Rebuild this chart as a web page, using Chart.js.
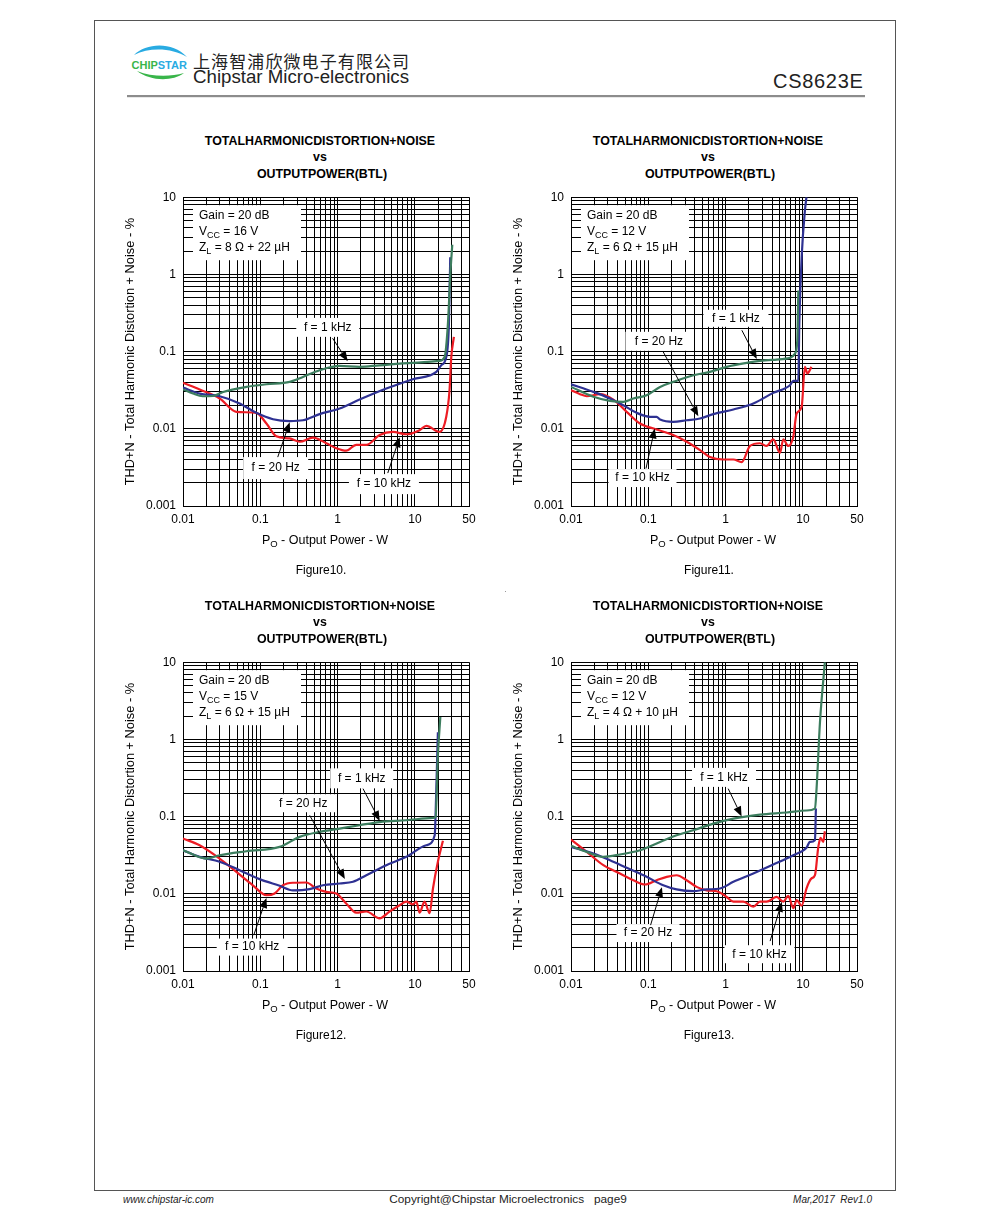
<!DOCTYPE html>
<html>
<head>
<meta charset="utf-8">
<script src="https://cdn.jsdelivr.net/npm/chart.js@4.4.1/dist/chart.umd.min.js"></script>
<style>
body { margin: 0; background: #fff; width: 991px; height: 1218px; position: relative; overflow: hidden;
       font-family: "Liberation Sans", Arial, sans-serif; color: #000; }
.t { position: absolute; white-space: pre; line-height: 1; transform: translate(-50%, -50%); }
.l { position: absolute; white-space: pre; line-height: 1; transform: translate(0, -50%); }
.r { position: absolute; white-space: pre; line-height: 1; transform: translate(-100%, -50%); }
.ttl { font-weight: bold; font-size: 12.4px; }
.ax { font-size: 12.5px; }
.ax sub { font-size: 9.5px; vertical-align: -3px; line-height: 0; }
.cap { font-size: 12px; }
canvas { position: absolute; }
#frame { position: absolute; left: 94px; top: 20px; width: 802px; height: 1171px; border: 1px solid #555; box-sizing: border-box; }
</style>
</head>
<body>
<div id="frame"></div>

<svg style="position:absolute;left:0;top:0" width="991" height="100">
  <path d="M134,55 C146,43 172,41 187,57 C172,48 150,47 134,55 Z" fill="#29abe2"/>
  <path d="M137,71 C150,81 172,82 184,73 C170,77 152,77 137,71 Z" fill="#39b54a"/>
  <text x="131.5" y="68.5" font-family="Liberation Sans, Arial" font-weight="bold" font-size="11"><tspan fill="#39b54a">CHIP</tspan><tspan fill="#29abe2">STAR</tspan></text>
  <rect x="127" y="95" width="738" height="2.2" fill="#8c8c8c"/>
</svg>
<div class="l" style="left:193px;top:59.5px;font-family:'Noto Sans CJK SC';font-size:17px;letter-spacing:1.1px;color:#222">上海智浦欣微电子有限公司</div>
<div class="l" style="left:193px;top:77px;font-size:18.7px;color:#222">Chipstar Micro-electronics</div>
<div class="r" style="left:863.5px;top:81px;font-size:20px;letter-spacing:0.7px;color:#222">CS8623E</div>

<canvas id="c10" width="368" height="353" style="left:123px;top:183px;width:368px;height:353px"></canvas>
<canvas id="c11" width="368" height="353" style="left:511px;top:183px;width:368px;height:353px"></canvas>
<canvas id="c12" width="368" height="353" style="left:123px;top:648px;width:368px;height:353px"></canvas>
<canvas id="c13" width="368" height="353" style="left:511px;top:648px;width:368px;height:353px"></canvas>

<div style="position:absolute;left:505px;top:591px;width:1px;height:1px;background:#999"></div>

<div class="l" style="left:123px;top:1200px;font-size:10px;font-style:italic;color:#222">www.chipstar-ic.com</div>
<div class="t" style="left:508px;top:1200px;font-size:11.8px;color:#222">Copyright@Chipstar Microelectronics   page9</div>
<div class="r" style="left:872px;top:1200px;font-size:10px;font-style:italic;color:#222">Mar,2017  Rev1.0</div>

<script>
// axes
const xTickVals = [0.01, 0.1, 1, 10, 50];
const xTickLabels = ['0.01', '0.1', '1', '10', '50'];
const yTickVals = [0.001, 0.01, 0.1, 1, 10];
const yTickLabels = ['0.001', '0.01', '0.1', '1', '10'];

// Figure10: Vcc 16 V, 8 ohm
const f10_1k_x = [0.01, 0.0135, 0.018, 0.0244, 0.033, 0.066, 0.12, 0.24, 0.356, 0.585, 1.06, 1.92, 3.49, 9.4, 20.8, 24.2, 26.7, 28.7, 30.4];
const f10_1k_y = [0.0326, 0.0286, 0.0264, 0.0266, 0.030, 0.0349, 0.0378, 0.0405, 0.047, 0.0574, 0.0653, 0.0634, 0.0665, 0.0713, 0.0757, 0.085, 0.23, 1.02, 2.42];
const f10_20_x = [0.01, 0.0164, 0.0298, 0.054, 0.0888, 0.146, 0.239, 0.356, 0.585, 1.06, 1.92, 4.26, 9.4, 18.9, 21.9, 25.4, 27.5, 28.6];
const f10_20_y = [0.0342, 0.0286, 0.0264, 0.0213, 0.0161, 0.0133, 0.0126, 0.0129, 0.0155, 0.0183, 0.0239, 0.0332, 0.0439, 0.0546, 0.0666, 0.085, 0.23, 1.67];
const f10_10k_x = [0.01, 0.0164, 0.0298, 0.049, 0.0888, 0.12, 0.161, 0.239, 0.323, 0.48, 0.714, 0.96, 1.29, 1.74, 2.35, 3.49, 5.2, 7.72, 11.5, 14, 20.8, 25.4, 28, 29.5, 31.9];
const f10_10k_y = [0.0394, 0.0323, 0.0247, 0.0166, 0.0161, 0.0117, 0.0080, 0.0075, 0.0068, 0.0077, 0.0065, 0.0056, 0.0052, 0.0062, 0.0062, 0.0083, 0.0091, 0.0085, 0.0096, 0.0109, 0.0091, 0.0143, 0.0316, 0.085, 0.155];

// Figure11: Vcc 12 V, 6 ohm
const f11_1k_x = [0.01, 0.0195, 0.0319, 0.0475, 0.064, 0.095, 0.142, 0.21, 0.382, 0.627, 1.03, 1.87, 2.78, 4.56, 6.79, 7.88, 8.45, 8.71];
const f11_1k_y = [0.0349, 0.026, 0.023, 0.0223, 0.0247, 0.0272, 0.0349, 0.0405, 0.0494, 0.0546, 0.0634, 0.0713, 0.0757, 0.0788, 0.0828, 0.0942, 0.14, 0.62];
const f11_20_x = [0.01, 0.0195, 0.0319, 0.0475, 0.0706, 0.105, 0.128, 0.142, 0.21, 0.313, 0.466, 0.693, 1.26, 2.28, 4.13, 6.79, 7.5, 8.71, 8.97, 9.62, 10.6, 11.1];
const f11_20_y = [0.0378, 0.0301, 0.0247, 0.0202, 0.0161, 0.0143, 0.0143, 0.0132, 0.0123, 0.0129, 0.0136, 0.0155, 0.0178, 0.0213, 0.0292, 0.0367, 0.0418, 0.0418, 0.23, 1.67, 6.7, 10];
const f11_10k_x = [0.01, 0.0131, 0.016, 0.0237, 0.0353, 0.0525, 0.078, 0.128, 0.21, 0.313, 0.466, 0.627, 0.933, 1.26, 1.61, 2.07, 2.78, 3.39, 4.13, 5.05, 5.57, 6.46, 7.5, 8.28, 9.62, 10.6, 11.4, 12.9];
const f11_10k_y = [0.0316, 0.0281, 0.0264, 0.0281, 0.0239, 0.0166, 0.0117, 0.0098, 0.0083, 0.0068, 0.0053, 0.0043, 0.0040, 0.0040, 0.0037, 0.0060, 0.0065, 0.0060, 0.0073, 0.0049, 0.0073, 0.0060, 0.0079, 0.0158, 0.0192, 0.0634, 0.052, 0.0634];

// Figure12: Vcc 15 V, 6 ohm
const f12_1k_x = [0.01, 0.02, 0.0298, 0.066, 0.178, 0.323, 0.585, 1.06, 1.92, 3.49, 7.72, 17.1, 18.5, 19.8, 21.3];
const f12_1k_y = [0.0367, 0.0286, 0.0316, 0.0356, 0.0405, 0.0546, 0.0634, 0.07, 0.0773, 0.085, 0.0897, 0.0961, 0.099, 0.62, 1.95];
const f12_20_x = [0.01, 0.0164, 0.0298, 0.054, 0.098, 0.178, 0.264, 0.434, 0.646, 1.06, 1.58, 2.35, 4.26, 7.72, 14, 18, 18.9, 19.8];
const f12_20_y = [0.0367, 0.0301, 0.026, 0.0202, 0.0155, 0.0127, 0.0111, 0.0115, 0.0129, 0.0136, 0.0143, 0.0174, 0.0235, 0.0301, 0.0426, 0.0574, 0.23, 1.24];
const f12_10k_x = [0.01, 0.0164, 0.0298, 0.049, 0.08, 0.12, 0.153, 0.196, 0.264, 0.394, 0.53, 0.714, 0.96, 1.29, 1.74, 2.35, 3.49, 4.7, 6.34, 7.72, 9.42, 10.4, 11.5, 13.3, 15.5, 17.1, 19.8, 23];
const f12_10k_y = [0.052, 0.0426, 0.0286, 0.0192, 0.0129, 0.0096, 0.0101, 0.0129, 0.0139, 0.014, 0.0117, 0.0106, 0.0101, 0.0075, 0.0057, 0.0059, 0.0048, 0.0059, 0.0071, 0.0079, 0.0073, 0.0079, 0.0057, 0.0079, 0.0056, 0.0117, 0.026, 0.0485];

// Figure13: Vcc 12 V, 4 ohm
const f13_1k_x = [0.01, 0.016, 0.0262, 0.043, 0.078, 0.142, 0.232, 0.382, 0.693, 1.26, 2.78, 6.15, 11.1, 14.3, 15, 16.6, 19.2];
const f13_1k_y = [0.0418, 0.0349, 0.0301, 0.0323, 0.0367, 0.047, 0.0574, 0.0666, 0.0811, 0.0942, 0.106, 0.113, 0.12, 0.127, 0.23, 1.67, 10];
const f13_20_x = [0.01, 0.0195, 0.0319, 0.0525, 0.095, 0.156, 0.232, 0.382, 0.567, 0.845, 1.26, 2.28, 4.13, 7.5, 11.1, 12.3, 14.3, 14.7];
const f13_20_y = [0.0405, 0.0332, 0.0272, 0.0217, 0.0166, 0.0129, 0.0114, 0.0108, 0.0114, 0.0117, 0.0143, 0.0183, 0.0239, 0.0316, 0.0394, 0.047, 0.0494, 0.127];
const f13_10k_x = [0.01, 0.016, 0.0262, 0.043, 0.064, 0.0906, 0.128, 0.173, 0.232, 0.313, 0.421, 0.567, 0.766, 1.03, 1.26, 1.69, 2.28, 2.78, 3.39, 4.56, 5.57, 6.46, 7.5, 8.28, 9.62, 11.1, 12.9, 14.3, 15.8, 16.9, 18.3, 19.2];
const f13_10k_y = [0.0505, 0.0349, 0.0235, 0.0183, 0.015, 0.0132, 0.015, 0.0166, 0.0174, 0.015, 0.0123, 0.0111, 0.0108, 0.0091, 0.0079, 0.0079, 0.0068, 0.0079, 0.0079, 0.0091, 0.0079, 0.0094, 0.0065, 0.0083, 0.007, 0.0117, 0.0158, 0.0174, 0.0405, 0.053, 0.047, 0.0646];

const GREEN = '#3c7d5e', BLUE = '#2e3192', RED = '#ed1c24';
const FONT = 'Liberation Sans, Arial, sans-serif';

// minor log grid lines
const xGrid = [], yGrid = [];
for (let d = 0.01; d < 10; d *= 10) for (let k = 1; k < 10; k++) xGrid.push(+(k * d).toPrecision(3));
xGrid.push(10, 20, 30, 40, 50);
for (let d = 0.001; d < 10; d *= 10) for (let k = 1; k < 10; k++) yGrid.push(+(k * d).toPrecision(3));
yGrid.push(10);

function pick(vals, labels, v) {
  const i = vals.findIndex(t => Math.abs(t - v) / t < 1e-6);
  return i < 0 ? '' : labels[i];
}

function subText(ctx, x, y, parts) {
  parts.forEach(([s, sub]) => {
    ctx.font = (sub ? '9px ' : '12px ') + FONT;
    ctx.fillText(s, x, y + (sub ? 3.5 : 0));
    x += ctx.measureText(s).width;
  });
}

const notesPlugin = {
  id: 'notes',
  beforeDatasetsDraw(chart) {
    const n = chart.options.plugins.notes, ctx = chart.ctx, a = chart.chartArea;
    const xs = chart.scales.x, ys = chart.scales.y;
    ctx.save();
    ctx.fillStyle = '#fff';
    ctx.fillRect(a.left + 10, a.top + 8, 108, 55);
    n.labels.forEach(l => {
      const cx = xs.getPixelForValue(l.at[0]), cy = ys.getPixelForValue(l.at[1]);
      ctx.fillRect(cx - l.size[0] / 2, cy - l.size[1] / 2, l.size[0], l.size[1]);
    });
    ctx.fillStyle = '#000';
    ctx.textBaseline = 'middle';
    ctx.textAlign = 'left';
    subText(ctx, a.left + 16, a.top + 18.5, [['Gain = 20 dB', 0]]);
    subText(ctx, a.left + 16, a.top + 34.5, [['V', 0], ['CC', 1], [' = ' + n.vcc, 0]]);
    subText(ctx, a.left + 16, a.top + 50.5, [['Z', 0], ['L', 1], [' = ' + n.zl, 0]]);
    ctx.restore();
  },
  afterDatasetsDraw(chart) {
    const n = chart.options.plugins.notes, ctx = chart.ctx;
    const xs = chart.scales.x, ys = chart.scales.y;
    ctx.save();
    ctx.fillStyle = '#000';
    ctx.strokeStyle = '#000';
    ctx.lineWidth = 1;
    ctx.font = '12px ' + FONT;
    ctx.textAlign = 'center';
    ctx.textBaseline = 'middle';
    n.labels.forEach(l => {
      ctx.fillText(l.text, xs.getPixelForValue(l.at[0]), ys.getPixelForValue(l.at[1]));
      const x1 = xs.getPixelForValue(l.from[0]), y1 = ys.getPixelForValue(l.from[1]);
      const x2 = xs.getPixelForValue(l.to[0]), y2 = ys.getPixelForValue(l.to[1]);
      const ang = Math.atan2(y2 - y1, x2 - x1);
      const hx = x2 - 10 * Math.cos(ang), hy = y2 - 10 * Math.sin(ang);
      ctx.beginPath();
      ctx.moveTo(x1, y1);
      ctx.lineTo(hx, hy);
      ctx.stroke();
      ctx.beginPath();
      ctx.moveTo(x2, y2);
      ctx.lineTo(hx + 4 * Math.sin(ang), hy - 4 * Math.cos(ang));
      ctx.lineTo(hx - 4 * Math.sin(ang), hy + 4 * Math.cos(ang));
      ctx.closePath();
      ctx.fill();
    });
    ctx.restore();
  }
};

function series(xv, yv, color) {
  return {
    data: xv.map((x, i) => ({ x: x, y: yv[i] })),
    borderColor: color,
    borderWidth: 2.2,
    pointRadius: 0,
    fill: false,
    cubicInterpolationMode: 'monotone'
  };
}

function makeChart(id, datasets, notes) {
  return new Chart(document.getElementById(id), {
    type: 'line',
    data: { datasets: datasets },
    options: {
      responsive: false,
      animation: false,
      events: [],
      // top of plot area is set by the y tick label padding (14.2px)
      layout: { padding: { top: 0, right: 22, left: 0, bottom: 0 } },
      plugins: { legend: { display: false }, tooltip: { enabled: false }, notes: notes },
      scales: {
        x: {
          type: 'logarithmic', min: 0.01, max: 50,
          afterBuildTicks: s => { s.ticks = xGrid.map(v => ({ value: v })); },
          afterFit: s => { s.height = 30; },
          grid: { color: '#000', lineWidth: 1, drawTicks: false },
          border: { color: '#000', width: 1 },
          ticks: { autoSkip: false, maxRotation: 0, padding: 6, color: '#000', font: { family: FONT, size: 12 },
                   callback: v => pick(xTickVals, xTickLabels, v) }
        },
        y: {
          type: 'logarithmic', min: 0.001, max: 10,
          afterBuildTicks: s => { s.ticks = yGrid.map(v => ({ value: v })); },
          afterFit: s => { s.width = 60; },
          grid: { color: '#000', lineWidth: 1, drawTicks: false },
          border: { color: '#000', width: 1 },
          title: { display: true, text: 'THD+N - Total Harmonic Distortion + Noise - %', color: '#000',
                   font: { family: FONT, size: 12.8 }, padding: 0 },
          ticks: { autoSkip: false, padding: 7, color: '#000', font: { family: FONT, size: 12 },
                   callback: v => pick(yTickVals, yTickLabels, v) }
        }
      }
    },
    plugins: [notesPlugin]
  });
}

makeChart('c10', [series(f10_1k_x, f10_1k_y, GREEN), series(f10_20_x, f10_20_y, BLUE), series(f10_10k_x, f10_10k_y, RED)], {
  vcc: '16 V', zl: '8 Ω + 22 µH',
  labels: [
    { text: 'f = 1 kHz', at: [0.745, 0.206], size: [63, 19], from: [0.86, 0.149], to: [1.35, 0.075] },
    { text: 'f = 20 Hz', at: [0.158, 0.0031], size: [65, 22], from: [0.168, 0.0043], to: [0.24, 0.0122] },
    { text: 'f = 10 kHz', at: [3.97, 0.00192], size: [70, 20], from: [4.45, 0.00267], to: [6.35, 0.0078] }
  ]
});
makeChart('c11', [series(f11_1k_x, f11_1k_y, GREEN), series(f11_20_x, f11_20_y, BLUE), series(f11_10k_x, f11_10k_y, RED)], {
  vcc: '12 V', zl: '6 Ω + 15 µH',
  labels: [
    { text: 'f = 1 kHz', at: [1.36, 0.27], size: [65, 17], from: [1.62, 0.189], to: [2.53, 0.08] },
    { text: 'f = 20 Hz', at: [0.137, 0.136], size: [67, 19], from: [0.156, 0.0989], to: [0.444, 0.0145] },
    { text: 'f = 10 kHz', at: [0.0841, 0.0023], size: [68, 18], from: [0.0933, 0.00306], to: [0.121, 0.0101] }
  ]
});
makeChart('c12', [series(f12_1k_x, f12_1k_y, GREEN), series(f12_20_x, f12_20_y, BLUE), series(f12_10k_x, f12_10k_y, RED)], {
  vcc: '15 V', zl: '6 Ω + 15 µH',
  labels: [
    { text: 'f = 1 kHz', at: [2.05, 0.313], size: [63, 20], from: [2.13, 0.23], to: [3.5, 0.088] },
    { text: 'f = 20 Hz', at: [0.359, 0.149], size: [65, 18], from: [0.435, 0.104], to: [1.24, 0.0155] },
    { text: 'f = 10 kHz', at: [0.0785, 0.00204], size: [71, 17], from: [0.0822, 0.00291], to: [0.12, 0.00885] }
  ]
});
makeChart('c13', [series(f13_1k_x, f13_1k_y, GREEN), series(f13_20_x, f13_20_y, BLUE), series(f13_10k_x, f13_10k_y, RED)], {
  vcc: '12 V', zl: '4 Ω + 10 µH',
  labels: [
    { text: 'f = 1 kHz', at: [0.953, 0.322], size: [64, 19], from: [1.08, 0.23], to: [1.61, 0.1] },
    { text: 'f = 20 Hz', at: [0.099, 0.0031], size: [63, 18], from: [0.107, 0.00393], to: [0.15, 0.0122] },
    { text: 'f = 10 kHz', at: [2.74, 0.00165], size: [70, 18], from: [3.76, 0.00244], to: [5.33, 0.0079] }
  ]
});

// titles and captions around each plot (plot origin = canvas + (60, 14))
[['c10', 'Figure10.'], ['c11', 'Figure11.'], ['c12', 'Figure12.'], ['c13', 'Figure13.']].forEach(([id, cap]) => {
  const c = document.getElementById(id);
  const L = parseFloat(c.style.left) + 60, T = parseFloat(c.style.top) + 14;
  const add = (cls, x, y, html) => {
    const d = document.createElement('div');
    d.className = 't ' + cls;
    d.style.left = x + 'px';
    d.style.top = y + 'px';
    d.innerHTML = html;
    document.body.appendChild(d);
  };
  add('ttl', L + 137, T - 56, 'TOTALHARMONICDISTORTION+NOISE');
  add('ttl', L + 137, T - 40, 'vs');
  add('ttl', L + 139, T - 23, 'OUTPUTPOWER(BTL)');
  add('ax', L + 142, T + 343, 'P<sub>O</sub> - Output Power - W');
  add('cap', L + 138, T + 373, cap);
});
</script>
</body>
</html>
